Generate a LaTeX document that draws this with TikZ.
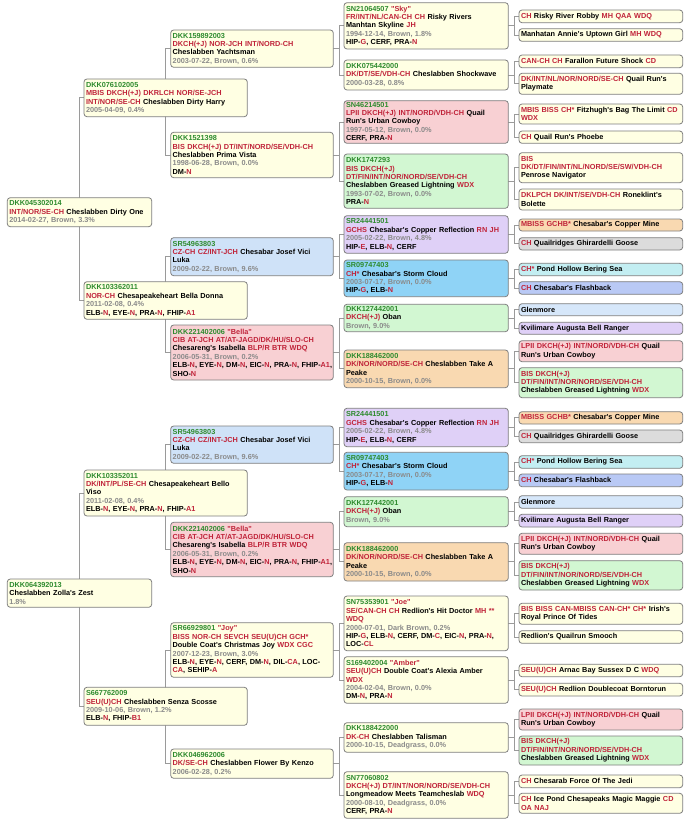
\documentclass[tikz,border=0pt]{standalone}
\usepackage{fontspec}
\setmainfont{Liberation Sans}[Ligatures=TeXOff]
\usetikzlibrary{backgrounds}
\definecolor{idg}{HTML}{2E8B2E}
\definecolor{ttl}{HTML}{C0243A}
\definecolor{dgray}{HTML}{8A8A8A}
\definecolor{bord}{HTML}{7F7F7F}
\definecolor{lin}{HTML}{9A9A9A}
\definecolor{fcream}{HTML}{FFFFE3}
\definecolor{fpink}{HTML}{F8D0D3}
\definecolor{fgreen}{HTML}{D2F7D2}
\definecolor{fblue}{HTML}{CFE2F8}
\definecolor{fpurple}{HTML}{DFD0F7}
\definecolor{fsky}{HTML}{8FD3F6}
\definecolor{fpeach}{HTML}{F9D9B1}
\definecolor{fgray}{HTML}{DCDCDC}
\definecolor{fcyan}{HTML}{C3EEF2}
\definecolor{fperi}{HTML}{B9C9F5}
\definecolor{flblue}{HTML}{D6E7FA}
\newcommand\Pid[1]{\textcolor{idg}{#1}}
\newcommand\Pred[1]{\textcolor{ttl}{#1}}
\newcommand\Pdat[1]{\textcolor{dgray}{#1}}
\newcommand\pfont{\fontsize{7.3}{8.4}\selectfont\bfseries}
\newcommand\txJosef{\Pid{SR54963803}\\\Pred{CZ-CH CZ/INT-JCH} Chesabar Josef Vici\\Luka\\\Pdat{2009-02-22, Brown, 9.6\%}}
\newcommand\txBella{\Pid{DKK221402006 \Pred{"Bella"}}\\\Pred{CIB AT-JCH AT/AT-JAGD/DK/HU/SLO-CH}\\Chesareng's Isabella \Pred{BLP/R BTR WDQ}\\\Pdat{2006-05-31, Brown, 0.2\%}\\\mbox{ELB-\Pred{N}, EYE-\Pred{N}, DM-\Pred{N}, EIC-\Pred{N}, PRA-\Pred{N}, FHIP-\Pred{A1},}\\SHO-\Pred{N}}
\newcommand\txCopperR{\Pid{SR24441501}\\\Pred{GCHS} Chesabar's Copper Reflection \Pred{RN JH}\\\Pdat{2005-02-22, Brown, 4.8\%}\\HIP-\Pred{E}, ELB-\Pred{N}, CERF}
\newcommand\txStorm{\Pid{SR09747403}\\\Pred{CH*} Chesabar's Storm Cloud\\\Pdat{2003-07-17, Brown, 0.0\%}\\HIP-\Pred{G}, ELB-\Pred{N}}
\newcommand\txOban{\Pid{DKK127442001}\\\Pred{DKCH(+J)} Oban\\\Pdat{Brown, 9.0\%}}
\newcommand\txPeake{\Pid{DKK188462000}\\\Pred{DK/NOR/NORD/SE-CH} Cheslabben Take A\\Peake\\\Pdat{2000-10-15, Brown, 0.0\%}}
\newcommand\txUrban{\Pred{LPII DKCH(+J) INT/NORD/VDH-CH} Quail\\Run's Urban Cowboy}
\newcommand\txGreased{\Pred{BIS DKCH(+J)}\\\Pred{DT/FIN/INT/NOR/NORD/SE/VDH-CH}\\Cheslabben Greased Lightning \Pred{WDX}}
\newcommand\txMine{\Pred{MBISS GCHB*} Chesabar's Copper Mine}
\newcommand\txGoose{\Pred{CH} Quailridges Ghirardelli Goose}
\newcommand\txBering{\Pred{CH*} Pond Hollow Bering Sea}
\newcommand\txFlash{\Pred{CH} Chesabar's Flashback}
\newcommand\plink[3]{%
  \path (#2.west) ++(-5,0) coordinate (#1v);
  \draw[conn] (#2.west) -- (#1v) |- (#3.west);
  \draw[conn] (#1.center) -- (#1.center -| #1v);}
\begin{document}
\begin{tikzpicture}[x=1pt,y=-1pt,
  pbox/.style={draw=bord,line width=0.8pt,rounded corners=3pt,anchor=north west,
    inner xsep=2pt,inner ysep=0pt,outer sep=0pt,align=left,font=\pfont,text=black},
  cA/.style={pbox,text width=140.4pt},
  cB/.style={pbox,text width=159.3pt},
  cC/.style={pbox,text width=158.6pt},
  cD/.style={pbox,text width=160.3pt},
  cE/.style={pbox,text width=159.7pt},
  conn/.style={draw=lin,line width=0.8pt}]
\useasboundingbox (0,0) rectangle (690,824);
% generation 1
\node[cA,fill=fcream,minimum height=29] (A1) at (7.3,197.7) {\Pid{DKK045302014}\\\Pred{INT/NOR/SE-CH} Cheslabben Dirty One\\\Pdat{2014-02-27, Brown, 3.3\%}};
\node[cA,fill=fcream,minimum height=28.3] (A2) at (7.3,579) {\Pid{DKK064392013}\\Cheslabben Zolla's Zest\\\Pdat{1.8\%}};
% generation 2
\node[cB,fill=fcream,minimum height=37.7] (B1) at (84,79) {\Pid{DKK076102005}\\\Pred{MBIS DKCH(+J) DKRLCH NOR/SE-JCH}\\\Pred{INT/NOR/SE-CH} Cheslabben Dirty Harry\\\Pdat{2005-04-09, 0.4\%}};
\node[cB,fill=fcream,minimum height=37.6] (B2) at (84,281.7) {\Pid{DKK103362011}\\\Pred{NOR-CH} Chesapeakeheart Bella Donna\\\Pdat{2011-02-08, 0.4\%}\\ELB-\Pred{N}, EYE-\Pred{N}, PRA-\Pred{N}, FHIP-\Pred{A1}};
\node[cB,fill=fcream,minimum height=46] (B3) at (84,470) {\Pid{DKK103352011}\\\Pred{DK/INT/PL/SE-CH} Chesapeakeheart Bello\\Viso\\\Pdat{2011-02-08, 0.4\%}\\ELB-\Pred{N}, EYE-\Pred{N}, PRA-\Pred{N}, FHIP-\Pred{A1}};
\node[cB,fill=fcream,minimum height=38] (B4) at (84,687.3) {\Pid{S667762009}\\\Pred{SEU(U)CH} Cheslabben Senza Scosse\\\Pdat{2009-10-06, Brown, 1.2\%}\\ELB-\Pred{N}, FHIP-\Pred{B1}};
% generation 3
\node[cC,fill=fcream,minimum height=37.3] (C1) at (170.7,30) {\Pid{DKK159892003}\\\Pred{DKCH(+J) NOR-JCH INT/NORD-CH}\\Cheslabben Yachtsman\\\Pdat{2003-07-22, Brown, 0.6\%}};
\node[cC,fill=fcream,minimum height=45.4] (C2) at (170.7,132.3) {\Pid{DKK1521398}\\\Pred{BIS DKCH(+J) DT/INT/NORD/SE/VDH-CH}\\Cheslabben Prima Vista\\\Pdat{1998-06-28, Brown, 0.0\%}\\DM-\Pred{N}};
\node[cC,fill=fblue,minimum height=38] (C3) at (170.7,237.7) {\txJosef};
\node[cC,fill=fpink,minimum height=55] (C4) at (170.7,325) {\txBella};
\node[cC,fill=fblue,minimum height=37.3] (C5) at (170.7,426) {\txJosef};
\node[cC,fill=fpink,minimum height=54.4] (C6) at (170.7,522.3) {\txBella};
\node[cC,fill=fcream,minimum height=54.6] (C7) at (170.7,622.7) {\Pid{SR66929801} \Pred{"Joy"}\\\Pred{BISS NOR-CH SEVCH SEU(U)CH GCH*}\\Double Coat's Christmas Joy \Pred{WDX CGC}\\\Pdat{2007-12-23, Brown, 3.0\%}\\\mbox{ELB-\Pred{N}, EYE-\Pred{N}, CERF, DM-\Pred{N}, DIL-\Pred{CA}, LOC-}\\\Pred{CA}, SEHIP-\Pred{A}};
\node[cC,fill=fcream,minimum height=29.3] (C8) at (170.7,749) {\Pid{DKK046962006}\\\Pred{DK/SE-CH} Cheslabben Flower By Kenzo\\\Pdat{2006-02-28, 0.2\%}};
% generation 4
\node[cD,fill=fcream,minimum height=46.3] (D1) at (344,2.7) {\Pid{SN21064507} \Pred{"Sky"}\\\Pred{FR/INT/NL/CAN-CH CH} Risky Rivers\\Manhtan Skyline \Pred{JH}\\\Pdat{1994-12-14, Brown, 1.8\%}\\HIP-\Pred{G}, CERF, PRA-\Pred{N}};
\node[cD,fill=fcream,minimum height=30] (D2) at (344,60) {\Pid{DKK075442000}\\\Pred{DK/DT/SE/VDH-CH} Cheslabben Shockwave\\\Pdat{2000-03-28, 0.8\%}};
\node[cD,fill=fpink,minimum height=42.6] (D3) at (344,100.7) {\Pid{SN46214501}\\\txUrban\\\Pdat{1997-05-12, Brown, 0.0\%}\\CERF, PRA-\Pred{N}};
\node[cD,fill=fgreen,minimum height=54.3] (D4) at (344,154) {\Pid{DKK1747293}\\\txGreased\\\Pdat{1993-07-02, Brown, 0.0\%}\\PRA-\Pred{N}};
\node[cD,fill=fpurple,minimum height=37.6] (D5) at (344,215.7) {\txCopperR};
\node[cD,fill=fsky,minimum height=36.7] (D6) at (344,260) {\txStorm};
\node[cD,fill=fgreen,minimum height=27.4] (D7) at (344,304.3) {\txOban};
\node[cD,fill=fpeach,minimum height=37.7] (D8) at (344,350) {\txPeake};
\node[cD,fill=fpurple,minimum height=38.4] (D9) at (344,408.3) {\txCopperR};
\node[cD,fill=fsky,minimum height=37.7] (D10) at (344,452.3) {\txStorm};
\node[cD,fill=fgreen,minimum height=30] (D11) at (344,496.7) {\txOban};
\node[cD,fill=fpeach,minimum height=38.3] (D12) at (344,542.7) {\txPeake};
\node[cD,fill=fcream,minimum height=54.7] (D13) at (344,596) {\Pid{SN75353901} \Pred{"Joe"}\\\Pred{SE/CAN-CH CH} Redlion's Hit Doctor \Pred{MH **}\\\Pred{WDQ}\\\Pdat{2000-07-01, Dark Brown, 0.2\%}\\\mbox{HIP-\Pred{G}, ELB-\Pred{N}, CERF, DM-\Pred{C}, EIC-\Pred{N}, PRA-\Pred{N},}\\LOC-\Pred{CL}};
\node[cD,fill=fcream,minimum height=46.6] (D14) at (344,656.7) {\Pid{S169402004} \Pred{"Amber"}\\\Pred{SEU(U)CH} Double Coat's Alexia Amber\\\Pred{WDX}\\\Pdat{2004-02-04, Brown, 0.0\%}\\DM-\Pred{N}, PRA-\Pred{N}};
\node[cD,fill=fcream,minimum height=29.6] (D15) at (344,722.7) {\Pid{DKK188422000}\\\Pred{DK-CH} Cheslabben Talisman\\\Pdat{2000-10-15, Deadgrass, 0.0\%}};
\node[cD,fill=fcream,minimum height=46.6] (D16) at (344,771.7) {\Pid{SN77060802}\\\Pred{DKCH(+J) DT/INT/NOR/NORD/SE/VDH-CH}\\Longmeadow Meets Teamcheslab \Pred{WDQ}\\\Pdat{2000-08-10, Deadgrass, 0.0\%}\\CERF, PRA-\Pred{N}};
% generation 5
\node[cE,fill=fcream,minimum height=12.7] (E1) at (519,10) {\Pred{CH} Risky River Robby \Pred{MH QAA WDQ}};
\node[cE,fill=fcream,minimum height=12.6] (E2) at (519,28.7) {Manhatan Annie's Uptown Girl \Pred{MH WDQ}};
\node[cE,fill=fcream,minimum height=12.7] (E3) at (519,55) {\Pred{CAN-CH CH} Farallon Future Shock \Pred{CD}};
\node[cE,fill=fcream,minimum height=21] (E4) at (519,73.3) {\Pred{DK/INT/NL/NOR/NORD/SE-CH} Quail Run's\\Playmate};
\node[cE,fill=fcream,minimum height=20] (E5) at (519,104) {\mbox{\Pred{MBIS BISS CH*} Fitzhugh's Bag The Limit \Pred{CD}}\\\Pred{WDX}};
\node[cE,fill=fcream,minimum height=12.3] (E6) at (519,131) {\Pred{CH} Quail Run's Phoebe};
\node[cE,fill=fcream,minimum height=30] (E7) at (519,152.7) {\Pred{BIS}\\\Pred{DK/DT/FIN/INT/NL/NORD/SE/SW/VDH-CH}\\Penrose Navigator};
\node[cE,fill=fcream,minimum height=21] (E8) at (519,189) {\Pred{DKLPCH DK/INT/SE/VDH-CH} Roneklint's\\Bolette};
\node[cE,fill=fpeach,minimum height=12] (E9) at (519,219) {\txMine};
\node[cE,fill=fgray,minimum height=12.3] (E10) at (519,237.7) {\txGoose};
\node[cE,fill=fcyan,minimum height=12.4] (E11) at (519,263.3) {\txBering};
\node[cE,fill=fperi,minimum height=12.6] (E12) at (519,281.7) {\txFlash};
\node[cE,fill=flblue,minimum height=12] (E13) at (519,303.7) {Glenmore};
\node[cE,fill=fpurple,minimum height=12] (E14) at (519,322.3) {Kvilimare Augusta Bell Ranger};
\node[cE,fill=fpink,minimum height=21] (E15) at (519,340.7) {\txUrban};
\node[cE,fill=fgreen,minimum height=30] (E16) at (519,367.7) {\txGreased};
\node[cE,fill=fpeach,minimum height=12.3] (E17) at (519,411.7) {\txMine};
\node[cE,fill=fgray,minimum height=12.7] (E18) at (519,430) {\txGoose};
\node[cE,fill=fcyan,minimum height=12.6] (E19) at (519,455.7) {\txBering};
\node[cE,fill=fperi,minimum height=12.7] (E20) at (519,474) {\txFlash};
\node[cE,fill=flblue,minimum height=12.6] (E21) at (519,495.7) {Glenmore};
\node[cE,fill=fpurple,minimum height=12.7] (E22) at (519,514.3) {Kvilimare Augusta Bell Ranger};
\node[cE,fill=fpink,minimum height=21] (E23) at (519,533.3) {\txUrban};
\node[cE,fill=fgreen,minimum height=29.3] (E24) at (519,560.7) {\txGreased};
\node[cE,fill=fcream,minimum height=21] (E25) at (519,603.3) {\Pred{BIS BISS CAN-MBISS CAN-CH* CH*} Irish's\\Royal Prince Of Tides};
\node[cE,fill=fcream,minimum height=12.6] (E26) at (519,630.7) {Redlion's Quailrun Smooch};
\node[cE,fill=fcream,minimum height=12.4] (E27) at (519,664.3) {\Pred{SEU(U)CH} Arnac Bay Sussex D C \Pred{WDQ}};
\node[cE,fill=fcream,minimum height=12.7] (E28) at (519,683.3) {\Pred{SEU(U)CH} Redlion Doublecoat Borntorun};
\node[cE,fill=fpink,minimum height=21] (E29) at (519,709) {\txUrban};
\node[cE,fill=fgreen,minimum height=29] (E30) at (519,736) {\txGreased};
\node[cE,fill=fcream,minimum height=12.7] (E31) at (519,775) {\Pred{CH} Chesarab Force Of The Jedi};
\node[cE,fill=fcream,minimum height=20] (E32) at (519,793.3) {\mbox{\Pred{CH} Ice Pond Chesapeaks Magic Maggie \Pred{CD}}\\\Pred{OA NAJ}};
% connectors and page background
\begin{pgfonlayer}{background}
\fill[white] (0,0) rectangle (690,824);
\plink{A1}{B1}{B2}
\plink{A2}{B3}{B4}
\plink{B1}{C1}{C2}
\plink{B2}{C3}{C4}
\plink{B3}{C5}{C6}
\plink{B4}{C7}{C8}
\plink{C1}{D1}{D2}
\plink{C2}{D3}{D4}
\plink{C3}{D5}{D6}
\plink{C4}{D7}{D8}
\plink{C5}{D9}{D10}
\plink{C6}{D11}{D12}
\plink{C7}{D13}{D14}
\plink{C8}{D15}{D16}
\plink{D1}{E1}{E2}
\plink{D2}{E3}{E4}
\plink{D3}{E5}{E6}
\plink{D4}{E7}{E8}
\plink{D5}{E9}{E10}
\plink{D6}{E11}{E12}
\plink{D7}{E13}{E14}
\plink{D8}{E15}{E16}
\plink{D9}{E17}{E18}
\plink{D10}{E19}{E20}
\plink{D11}{E21}{E22}
\plink{D12}{E23}{E24}
\plink{D13}{E25}{E26}
\plink{D14}{E27}{E28}
\plink{D15}{E29}{E30}
\plink{D16}{E31}{E32}
\end{pgfonlayer}
\end{tikzpicture}
\end{document}
